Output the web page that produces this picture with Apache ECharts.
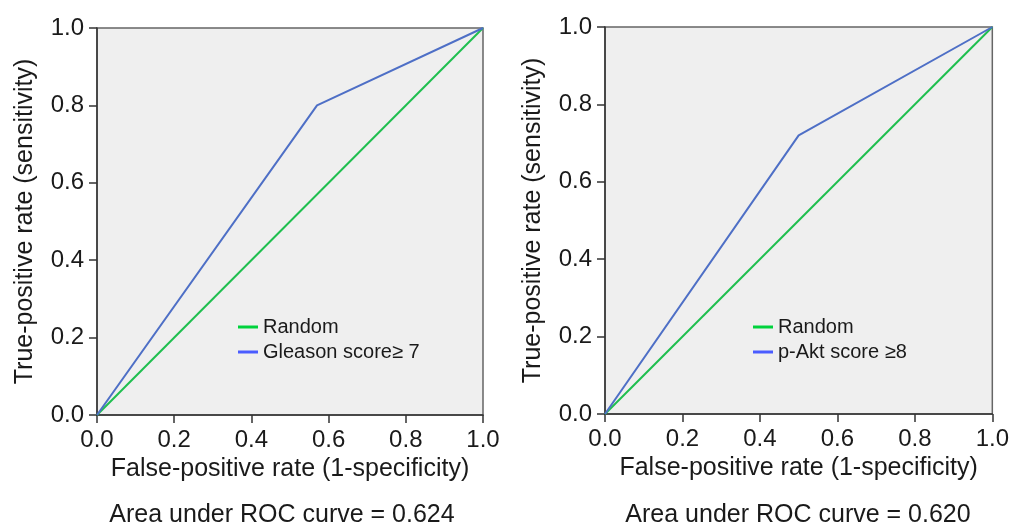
<!DOCTYPE html>
<html>
<head>
<meta charset="utf-8">
<script src="https://cdn.jsdelivr.net/npm/echarts@6/dist/echarts.min.js"></script>
<style>
  html, body { margin: 0; padding: 0; background: #fff; }
  #chart { width: 1012px; height: 527px; }
</style>
</head>
<body>
<div id="chart"></div>
<script>
// ROC data
const randomX = [0, 1];
const randomY = [0, 1];
const gleasonX = [0, 0.57, 1];
const gleasonY = [0, 0.80, 1];
const aktX = [0, 0.50, 1];
const aktY = [0, 0.72, 1];
const aucLabels = ['Area under ROC curve = 0.624', 'Area under ROC curve = 0.620'];
const seriesNames = ['Random', 'Gleason score\u2265 7', 'p-Akt score \u22658'];

const FONT = '"Liberation Sans", Arial, Helvetica, sans-serif';
const GREEN = '#1fbf4f';
const BLUE = '#4e6fc6';

const chart = echarts.init(document.getElementById('chart'));

const pairs = (xs, ys) => xs.map((x, i) => [x, ys[i]]);

function makeAxis(idx, isX) {
  return {
    type: 'value',
    gridIndex: idx,
    min: 0,
    max: 1,
    interval: 0.2,
    name: isX ? 'False-positive rate (1-specificity)' : 'True-positive rate (sensitivity)',
    nameLocation: 'middle',
    nameGap: isX ? 41 : 59,
    nameTextStyle: { fontFamily: FONT, fontSize: 25, color: '#1a1a1a' },
    axisLine: { show: true, onZero: false, lineStyle: { color: '#333', width: 1.5 } },
    axisTick: { show: true, length: 8, lineStyle: { color: '#333', width: 1.5 } },
    axisLabel: {
      margin: 13,
      fontFamily: FONT,
      fontSize: 24,
      color: '#1a1a1a',
      formatter: v => v.toFixed(1)
    },
    splitLine: { show: false }
  };
}

const grids = [
  { left: 97, top: 28, width: 386, height: 387 },
  { left: 605, top: 27, width: 388, height: 387 }
];

const option = {
  animation: false,
  backgroundColor: '#fff',
  grid: grids.map(g => Object.assign({
    show: true,
    backgroundColor: '#efefef',
    borderColor: '#666',
    borderWidth: 1.5,
    containLabel: false
  }, g)),
  xAxis: [makeAxis(0, true), makeAxis(1, true)],
  yAxis: [makeAxis(0, false), makeAxis(1, false)],
  legend: [
    {
      left: 233, top: 312, orient: 'vertical', itemGap: 5,
      icon: 'rect', itemWidth: 20, itemHeight: 3,
      textStyle: { fontFamily: FONT, fontSize: 20, color: '#1a1a1a' },
      data: [
        { name: seriesNames[0], itemStyle: { color: '#00d23c' } },
        { name: seriesNames[1], itemStyle: { color: '#4a5cff' } }
      ]
    },
    {
      left: 748, top: 312, orient: 'vertical', itemGap: 5,
      icon: 'rect', itemWidth: 20, itemHeight: 3,
      textStyle: { fontFamily: FONT, fontSize: 20, color: '#1a1a1a' },
      data: [
        { name: 'Random ', itemStyle: { color: '#00d23c' } },
        { name: seriesNames[2], itemStyle: { color: '#4a5cff' } }
      ]
    }
  ],
  graphic: [
    {
      type: 'text', x: 282, y: 515,
      style: { text: aucLabels[0], font: '25px ' + FONT, fill: '#1a1a1a', textAlign: 'center', textVerticalAlign: 'middle' }
    },
    {
      type: 'text', x: 798, y: 515,
      style: { text: aucLabels[1], font: '25px ' + FONT, fill: '#1a1a1a', textAlign: 'center', textVerticalAlign: 'middle' }
    }
  ],
  series: [
    {
      name: seriesNames[0], type: 'line', xAxisIndex: 0, yAxisIndex: 0,
      data: pairs(randomX, randomY), symbol: 'none',
      lineStyle: { color: GREEN, width: 2 }, itemStyle: { color: GREEN }
    },
    {
      name: seriesNames[1], type: 'line', xAxisIndex: 0, yAxisIndex: 0,
      data: pairs(gleasonX, gleasonY), symbol: 'none',
      lineStyle: { color: BLUE, width: 2 }, itemStyle: { color: BLUE }
    },
    {
      name: 'Random ', type: 'line', xAxisIndex: 1, yAxisIndex: 1,
      data: pairs(randomX, randomY), symbol: 'none',
      lineStyle: { color: GREEN, width: 2 }, itemStyle: { color: GREEN }
    },
    {
      name: seriesNames[2], type: 'line', xAxisIndex: 1, yAxisIndex: 1,
      data: pairs(aktX, aktY), symbol: 'none',
      lineStyle: { color: BLUE, width: 2 }, itemStyle: { color: BLUE }
    }
  ]
};

chart.setOption(option);
</script>
</body>
</html>
